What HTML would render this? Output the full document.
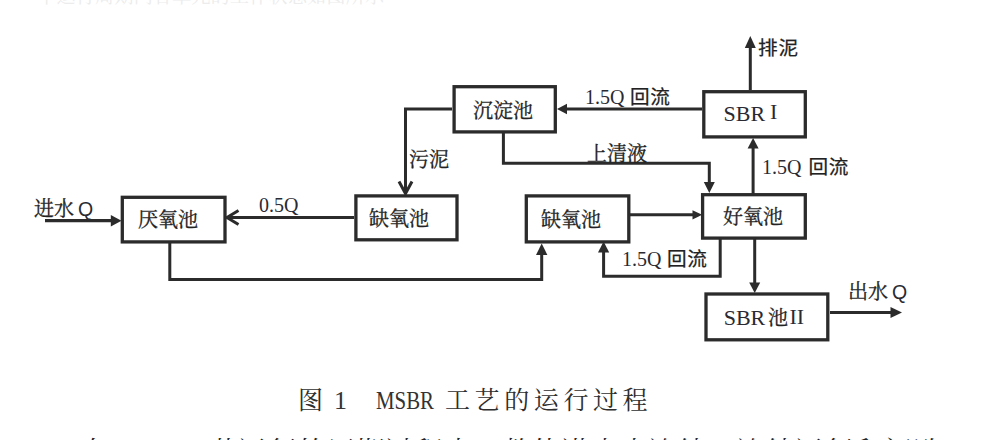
<!DOCTYPE html>
<html lang="zh">
<head>
<meta charset="utf-8">
<title>图 1 MSBR 工艺的运行过程</title>
<style>
html,body{margin:0;padding:0;background:#fff;}
body{width:1000px;height:440px;overflow:hidden;position:relative;}
svg{position:absolute;left:0;top:0;display:block;}
.cj{font-family:"Liberation Serif","Noto Serif CJK SC",serif;font-size:20px;fill:#222;stroke:#222;stroke-width:0.3px;}
.lt{font-family:"Liberation Serif","Noto Serif CJK SC",serif;font-size:20px;fill:#2a2a33;}
.l22{font-family:"Liberation Serif",serif;font-size:22px;fill:#2a2a33;}
.sq{font-family:"Liberation Sans",sans-serif;font-size:19.5px;fill:#2a2a33;stroke:none;}
.cb{font-family:"Liberation Sans","Noto Sans CJK SC",sans-serif;font-size:19.6px;letter-spacing:0.8px;fill:#222;font-weight:400;stroke:#222;stroke-width:0.25px;}
.cap{font-family:"Liberation Serif","Noto Serif CJK SC",serif;font-size:25px;fill:#2e2e2e;font-weight:400;}
.capl{font-family:"Liberation Serif","Noto Serif CJK SC",serif;font-size:26px;fill:#333;}
.body{font-family:"Liberation Serif","Noto Serif CJK SC",serif;font-size:29px;fill:#222;font-weight:300;}
.ghost{font-family:"Liberation Serif","Noto Serif CJK SC",serif;font-size:19px;fill:#ececec;}
</style>
</head>
<body>
<svg width="1000" height="440" viewBox="0 0 1000 440">
<rect width="1000" height="440" fill="#fff"/>
<!-- faint cut-off line at top -->
<text class="ghost" x="18" y="2.5" textLength="366">一个运行周期内各单元的工作状态如图所示</text>

<g fill="none" stroke="#2b2b2b" stroke-width="3.3">
  <!-- boxes -->
  <rect x="122.3" y="197.3" width="102.7" height="44.6"/>
  <rect x="355.9" y="195.9" width="101.1" height="43.9"/>
  <rect x="454.1" y="86.7" width="101.2" height="45.2"/>
  <rect x="526.3" y="195.9" width="102.5" height="46"/>
  <rect x="702.6" y="194.7" width="102.7" height="43.4"/>
  <rect x="703.8" y="91.7" width="101.5" height="45.2"/>
  <rect x="706" y="294" width="121.8" height="45.8"/>
</g>
<g fill="none" stroke="#2b2b2b" stroke-width="3" stroke-linejoin="miter">
  <!-- inflow -->
  <path d="M45 220.7 H114" stroke-width="3.3"/>
  <!-- 0.5Q -->
  <path d="M354 217.5 H227.5"/>
  <path d="M238.5 210.5 L227 217.5 L238.5 224.5"/>
  <!-- settle -> anoxic (sludge) -->
  <path d="M452 109 H405.5 V192"/>
  <path d="M399 181.5 L405.5 193.5 L412 181.5"/>
  <!-- settle -> aerobic (supernatant) -->
  <path d="M503.4 133 V163.2 H709.3 V185"/>
  <!-- SBR I -> settle -->
  <path d="M702 109 H565"/>
  <!-- SBR I up -->
  <path d="M750.3 90 V46"/>
  <!-- aerobic -> SBR I -->
  <path d="M753.1 194 V147"/>
  <!-- anoxic2 -> aerobic -->
  <path d="M630 214.8 H694"/>
  <!-- aerobic -> return -->
  <path d="M720.2 239 V276.3 H603.6 V251"/>
  <!-- anaerobic -> anoxic2 -->
  <path d="M169.8 243 V279.4 H541.7 V253"/>
  <!-- aerobic -> SBR II -->
  <path d="M754.7 239 V284"/>
  <!-- outflow -->
  <path d="M830 312.6 H892"/>
</g>
<g fill="#2b2b2b" stroke="none">
  <polygon points="121.5,220.7 110.8,215 110.8,226.4"/>
  <polygon points="709.3,193 703.8,182 714.8,182"/>
  <polygon points="557,109 567,103.7 567,114.3"/>
  <polygon points="750.3,36 744.8,48 755.8,48"/>
  <polygon points="753.1,138 747.6,148.5 758.6,148.5"/>
  <polygon points="702.2,214.8 692.5,210.2 692.5,219.4"/>
  <polygon points="603.6,241.5 598,252.5 609.2,252.5"/>
  <polygon points="541.7,243.5 536,255 547.4,255"/>
  <polygon points="754.7,293 749.2,282.5 760.2,282.5"/>
  <polygon points="902,312.6 890.5,307.1 890.5,318.1"/>
</g>

<!-- labels -->
<text class="cj" x="34" y="216">进水<tspan class="sq" dx="4">Q</tspan></text>
<text class="cj" x="138" y="227">厌氧池</text>
<text class="lt" x="259" y="211.8">0.5Q</text>
<text class="cj" x="369" y="226">缺氧池</text>
<text class="cj" x="409" y="167">污泥</text>
<text class="cj" x="473" y="118">沉淀池</text>
<text class="lt" x="585" y="104.2">1.5Q<tspan class="cb" dx="5.5">回流</tspan></text>
<text class="cj" x="587" y="161">上清液</text>
<text class="cj" x="541" y="227">缺氧池</text>
<text class="lt" x="622" y="266">1.5Q<tspan class="cb" dx="5.5">回流</tspan></text>
<text class="cj" x="723" y="224">好氧池</text>
<text class="l22" x="723.5" y="120.6">SBR</text>
<text class="l22" x="770" y="119.2">I</text>
<text class="lt" x="762" y="174">1.5Q<tspan class="cb" dx="7">回流</tspan></text>
<text class="cb" x="758" y="55">排泥</text>
<text class="l22" x="723.7" y="325">SBR</text>
<text class="cj" x="768" y="325">池</text>
<text class="l22" x="789.5" y="323.5">II</text>
<text class="cj" x="848" y="299">出水<tspan class="sq" dx="4">Q</tspan></text>

<!-- caption -->
<text class="cap" x="298" y="408.5">图</text>
<text class="capl" x="334" y="409">1</text>
<text class="capl" x="376" y="409" textLength="58" lengthAdjust="spacingAndGlyphs">MSBR</text>
<text class="cap" x="445" y="408.5" letter-spacing="4.6">工艺的运行过程</text>

<!-- cut-off body line -->
<text class="body" x="80" y="462.6">在</text>
<text class="body" x="114" y="462.6" textLength="58" lengthAdjust="spacingAndGlyphs">MSBR</text>
<text class="body" x="180" y="462.6" letter-spacing="0.3">工艺运行的周期过程中，整体进出水连续，连续运行和间歇</text>
</svg>
</body>
</html>
